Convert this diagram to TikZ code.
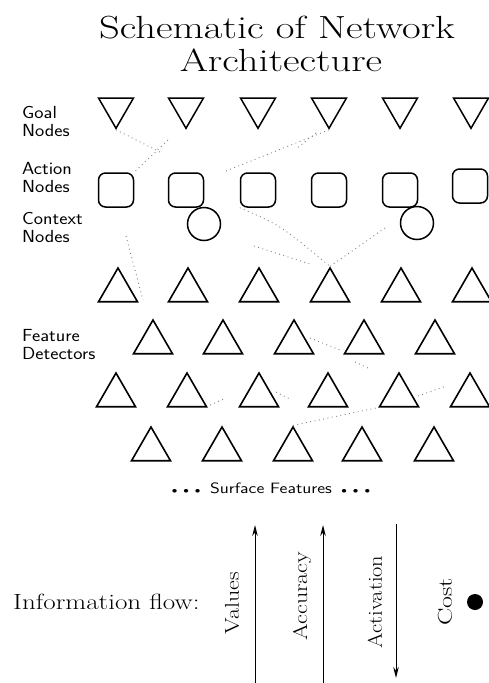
\documentclass[tikz,border=0pt]{standalone}
\usetikzlibrary{shapes.geometric,arrows.meta}
\newcommand\widetxt[2]{\scalebox{#1}[1]{#2}}
\newcommand\sfdot{{\small$\bullet$}}
\begin{document}
\begin{tikzpicture}[x=1pt,y=-1pt,
 up/.style={draw,regular polygon,regular polygon sides=3,minimum size=45pt,inner sep=0pt,line width=1.6pt},
 down/.style={draw,regular polygon,regular polygon sides=3,shape border rotate=180,minimum size=40.4pt,inner sep=0pt,line width=1.5pt},
 act/.style={draw,rounded corners=7pt,minimum width=35pt,minimum height=34pt,inner sep=0pt,line width=1.5pt},
 ctx/.style={draw,circle,minimum size=33pt,inner sep=0pt,line width=1.5pt},
 lab/.style={font=\sffamily\fontsize{17.5}{18.5}\selectfont,align=left,anchor=north west,inner sep=0pt},
 faint/.style={draw=black!50,line width=0.9pt,dash pattern=on 0.9pt off 3.5pt},
 flow/.style={line width=1pt,-{Stealth[length=11pt,width=5.5pt]}},
 vlab/.style={font=\fontsize{20}{20}\selectfont,rotate=90,inner sep=0pt},
 ]
\useasboundingbox (0,0) rectangle (489,683);
% title
\node[font=\fontsize{32}{32}\selectfont,anchor=base,inner sep=0pt] (t1) at (277,38) {\widetxt{1.27}{Schematic of Network}};
\node[font=\fontsize{32}{32}\selectfont,anchor=base,inner sep=0pt] (t2) at (281,71) {\widetxt{1.27}{Architecture}};
% labels
\node[lab] (lgoal) at (22,106) {\widetxt{1.12}{Goal}\\\widetxt{1.12}{Nodes}};
\node[lab] (lact) at (22,162) {\widetxt{1.12}{Action}\\\widetxt{1.12}{Nodes}};
\node[lab] (lctx) at (22,212) {\widetxt{1.12}{Context}\\\widetxt{1.12}{Nodes}};
\node[lab] (lfeat) at (22,329) {\widetxt{1.12}{Feature}\\\widetxt{1.12}{Detectors}};
% goal nodes
\foreach \x [count=\i] in {116,186,258,329,400,471}
  \node[down] (g\i) at (\x,108.1) {};
% action nodes
\foreach \x [count=\i] in {116,186,258,329,400}
  \node[act] (a\i) at (\x,190) {};
\node[act] (a6) at (470,186) {};
% context nodes
\node[ctx] (c1) at (204,224) {};
\node[ctx] (c2) at (417,223) {};
% feature detectors
\foreach \x [count=\i] in {118,188,259,330,401,472}
  \node[up] (fa\i) at (\x,290.5) {};
\foreach \x [count=\i] in {153,223,294,364,435}
  \node[up] (fb\i) at (\x,342.5) {};
\foreach \x [count=\i] in {116,187,259,328,399,470}
  \node[up] (fc\i) at (\x,395.5) {};
\foreach \x [count=\i] in {151,222,293,362,434}
  \node[up] (fd\i) at (\x,449.5) {};
% free ends of faint connections
\coordinate (d1) at (160,152);
\coordinate (d2) at (168,140);
\coordinate (d3) at (226,171);
\coordinate (d4) at (316,133);
\coordinate (d5) at (296,149);
\coordinate (d6) at (385,228);
\coordinate (d7) at (254,246);
\coordinate (d8) at (310,264);
\coordinate (d9) at (126,236);
\coordinate (d10) at (143,300);
\coordinate (d11) at (310,338);
\coordinate (d12) at (340,350);
\coordinate (d13) at (355,362);
\coordinate (d14) at (368,368);
\coordinate (d15) at (210,405);
\coordinate (d16) at (226,398);
\coordinate (d17) at (418,396);
\coordinate (d18) at (446,386);
\coordinate (d19) at (276,392);
\coordinate (d20) at (290,399);
% faint connections
\draw[faint] (g1.corner 1) -- (d1);
\draw[faint] (d2) -- (a1.north east);
\draw[faint] (g4.corner 1) -- (d3);
\draw[faint] (d4) -- (d5);
\draw[faint] (a3.south west) .. controls (280,225) .. (fa4.corner 1);
\draw[faint] (d7) -- (d8);
\draw[faint] (d6) -- (fa4.corner 1);
\draw[faint] (d9) -- (d10);
\draw[faint] (d11) -- (d12);
\draw[faint] (d13) -- (d14);
\draw[faint] (d15) -- (d16);
\draw[faint] (d17) -- (d18);
\draw[faint] (d19) -- (d20);
\draw[faint] (fd3.corner 1) -- (fc5.corner 2);
% surface features
\node[font=\sffamily\fontsize{15}{15}\selectfont,inner sep=0pt] (surf) at (271,488) {\widetxt{1.2}{\sfdot\hspace{5pt}\sfdot\hspace{5pt}\sfdot\hspace{3pt} Surface Features\hspace{3pt} \sfdot\hspace{5pt}\sfdot\hspace{5pt}\sfdot}};
% information flow
\node[font=\fontsize{22}{22}\selectfont,anchor=west,inner sep=0pt] (info) at (13,602) {\widetxt{1.23}{Information flow:}};
\coordinate (vb) at (255,683);
\coordinate (vt) at (255,525);
\coordinate (ab) at (323,683);
\coordinate (at) at (323,525);
\coordinate (ct) at (396,524);
\coordinate (cb) at (396,678);
\draw[flow] (vb) -- (vt);
\draw[flow] (ab) -- (at);
\draw[flow] (ct) -- (cb);
\node[vlab] (lval) at (232,603) {\widetxt{1.2}{Values}};
\node[vlab] (lacc) at (302,596) {\widetxt{1.2}{Accuracy}};
\node[vlab] (lactv) at (375,602) {\widetxt{1.12}{Activation}};
\node[vlab] (lcost) at (445,602) {\widetxt{1.3}{Cost}};
\node[circle,fill,minimum size=16pt,inner sep=0pt] (costdot) at (475,602) {};
\end{tikzpicture}
\end{document}
